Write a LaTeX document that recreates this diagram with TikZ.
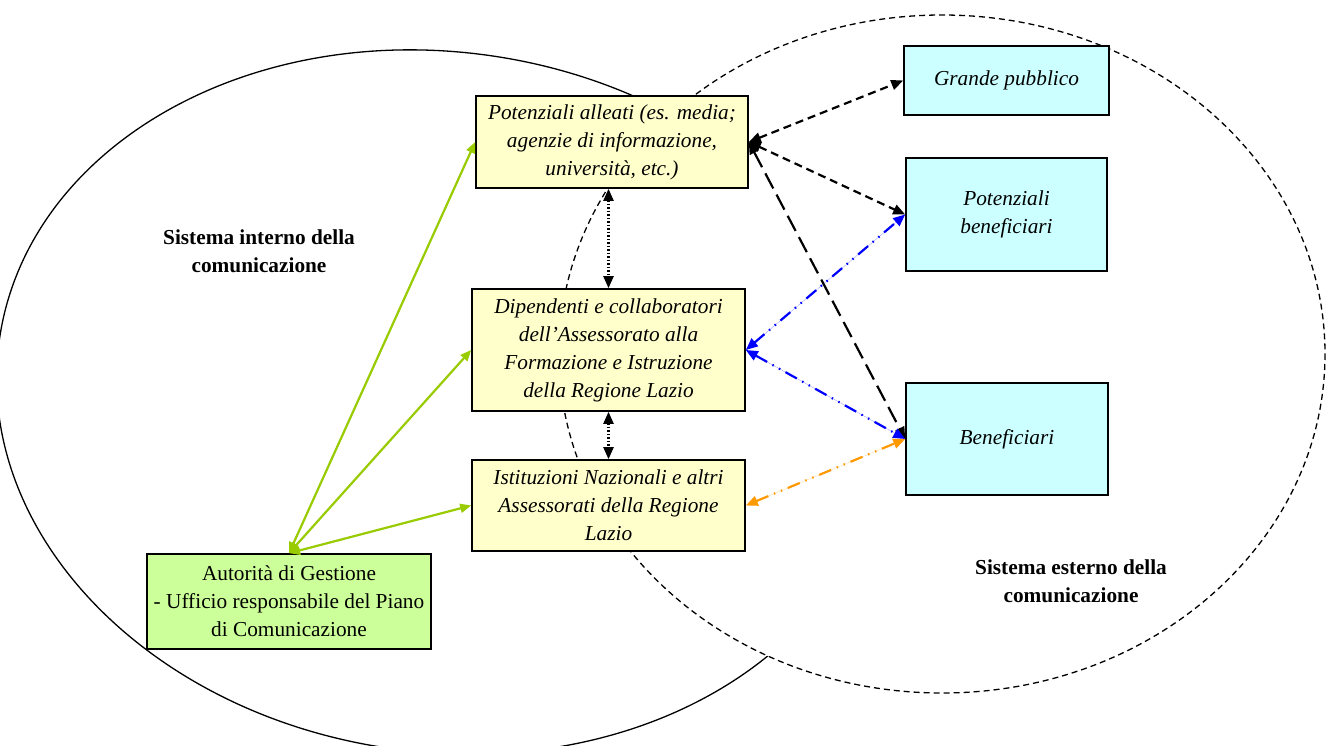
\documentclass[tikz,border=0pt]{standalone}
\usepackage{fontspec}
\setmainfont{Liberation Serif}
\usetikzlibrary{arrows.meta}
\definecolor{boxyellow}{HTML}{FFFFCC}
\definecolor{boxcyan}{HTML}{CCFFFF}
\definecolor{boxgreen}{HTML}{CCFF99}
\definecolor{arrgreen}{HTML}{99CC00}
\definecolor{arrorange}{HTML}{FF9900}
\begin{document}
\begin{tikzpicture}[x=1pt,y=-1pt,
  basebox/.style={draw=black, line width=1.6pt, inner sep=0pt, align=center,
    font=\fontsize{21.3}{28}\selectfont},
  ybox/.style={basebox, fill=boxyellow, font=\fontsize{21.3}{28}\selectfont\itshape},
  cbox/.style={basebox, fill=boxcyan, font=\fontsize{21.3}{28}\selectfont\itshape},
  gbox/.style={basebox, fill=boxgreen},
  syslabel/.style={align=center, font=\fontsize{21.3}{28}\selectfont\bfseries},
  garrow/.style={draw=arrgreen, fill=arrgreen, line width=2.2pt,
    {Triangle[length=11pt,width=9pt]}-{Triangle[length=11pt,width=9pt]}},
  karrow/.style={draw=black, line width=2.2pt,
    {Triangle[length=12pt,width=10pt]}-{Triangle[length=12pt,width=10pt]}},
  dotline/.style={karrow, dash pattern=on 1.5pt off 2pt},
  shortdash/.style={karrow, dash pattern=on 8pt off 5pt},
  longdash/.style={karrow, dash pattern=on 17pt off 7pt},
  dashdotdot/.style={line width=2.2pt, dash pattern=on 13pt off 6pt on 1.5pt off 6pt on 1.5pt off 6pt,
    {Triangle[length=12pt,width=10pt]}-{Triangle[length=12pt,width=10pt]}},
  bluearrow/.style={dashdotdot, draw=blue, fill=blue},
  orangearrow/.style={dashdotdot, draw=arrorange, fill=arrorange}
]
\useasboundingbox (0,0) rectangle (1328,746);
\fill[white] (0,0) rectangle (1328,746);

% system ellipses
\draw[line width=1.3pt, fill=white, shift={(440,402)}, rotate=-8] (0,0) ellipse [x radius=445, y radius=350];
\draw[line width=1.3pt, fill=white, dash pattern=on 6pt off 4pt] (942,354) ellipse [x radius=383, y radius=339];

\node[syslabel] (intlab) at (259,251) {Sistema interno della\\comunicazione};
\node[syslabel] (extlab) at (1071,581) {Sistema esterno della\\comunicazione};

% boxes
\node[ybox, minimum width=272pt, minimum height=92pt] (pa) at (612,142)
  {Potenziali alleati (es. media;\\agenzie di informazione,\\università, etc.)};
\node[ybox, minimum width=273pt, minimum height=122pt] (dip) at (608.5,350)
  {Dipendenti e collaboratori\\dell’Assessorato alla\\Formazione e Istruzione\\della Regione Lazio};
\node[ybox, minimum width=273pt, minimum height=91pt] (ist) at (608.5,505.5)
  {Istituzioni Nazionali e altri\\Assessorati della Regione\\Lazio};
\node[gbox, minimum width=284pt, minimum height=95pt] (au) at (289,601.5)
  {Autorità di Gestione\\- Ufficio responsabile del Piano\\di Comunicazione};
\node[cbox, minimum width=205pt, minimum height=69pt] (gp) at (1006.5,80.5) {Grande pubblico};
\node[cbox, minimum width=201pt, minimum height=113pt] (pb) at (1006.5,214.5) {Potenziali\\beneficiari};
\node[cbox, minimum width=202pt, minimum height=112pt] (be) at (1007,439) {Beneficiari};

% green connectors
\draw[garrow] (au.north) -- (pa.west);
\draw[garrow] (au.north) -- (dip.west);
\draw[garrow] (au.north) -- (ist.west);

% dotted vertical connectors
\draw[dotline] (dip.north |- pa.south) -- (dip.north);
\draw[dotline] (dip.south) -- (ist.north);

% black dashed connectors
\draw[shortdash] (pa.east) -- (gp.west);
\draw[shortdash] (pa.east) -- (pb.west);
\draw[longdash] (pa.east) -- (be.west);

% blue and orange connectors
\draw[bluearrow] (dip.east) -- (pb.west);
\draw[bluearrow] (dip.east) -- (be.west);
\draw[orangearrow] (ist.east) -- (be.west);
\end{tikzpicture}
\end{document}
